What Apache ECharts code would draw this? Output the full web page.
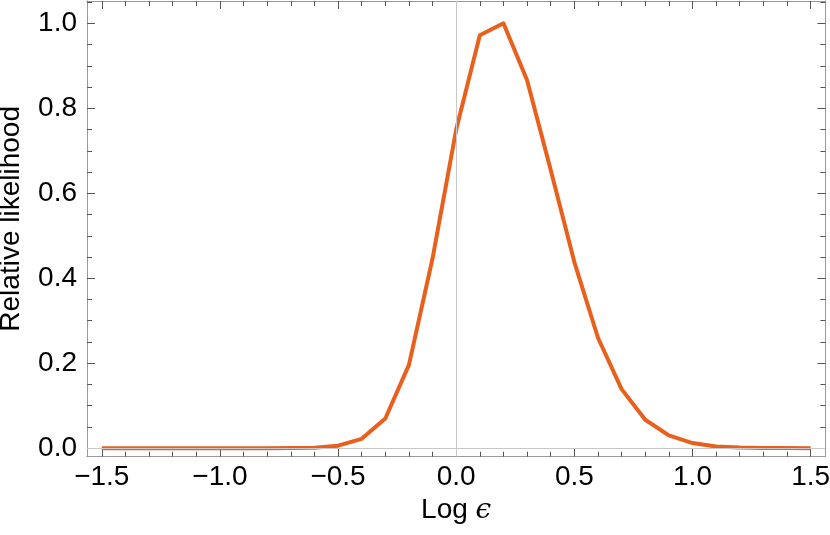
<!DOCTYPE html>
<html>
<head>
<meta charset="utf-8">
<script src="https://cdn.jsdelivr.net/npm/echarts@6/dist/echarts.min.js"></script>
<style>html,body{margin:0;padding:0;background:#fff;}#c{width:830px;height:535px;}</style>
</head>
<body>
<div id="c"></div>
<script>
const logEps = [-1.5,-1.4,-1.3,-1.2,-1.1,-1.0,-0.9,-0.8,-0.7,-0.6,-0.5,-0.4,-0.3,-0.2,-0.1,0.0,0.1,0.2,0.3,0.4,0.5,0.6,0.7,0.8,0.9,1.0,1.1,1.2,1.3,1.4,1.5];
const likelihood = [0,0,0,0,0,0,0,0,0.0003,0.0012,0.006,0.022,0.07,0.196,0.447,0.75,0.972,1.0,0.866,0.655,0.438,0.26,0.139,0.067,0.03,0.012,0.004,0.0015,0.0005,0.0002,0.0001];
const xMajorTicks = [-1.5,-1.0,-0.5,0.0,0.5,1.0,1.5];
const xMinorTicks = [-1.4,-1.3,-1.2,-1.1,-0.9,-0.8,-0.7,-0.6,-0.4,-0.3,-0.2,-0.1,0.1,0.2,0.3,0.4,0.6,0.7,0.8,0.9,1.1,1.2,1.3,1.4];
const yMajorTicks = [0.0,0.2,0.4,0.6,0.8,1.0];
const yMinorTicks = [0.05,0.1,0.15,0.25,0.3,0.35,0.45,0.5,0.55,0.65,0.7,0.75,0.85,0.9,0.95,1.05];

const X_MIN = -1.5625, X_MAX = 1.5625, Y_MIN = -0.02, Y_MAX = 1.0525;
const FRAME = '#9a9a9a', TICK = '#555', FONT = '"Liberation Sans", Arial, Helvetica, sans-serif';
const fmt = v => (v < 0 ? '\u2212' : '') + Math.abs(v).toFixed(1);

function xAx(pos, ticks, len, labels) {
  return {
    type: 'value', position: pos, min: X_MIN, max: X_MAX,
    axisLine: {show: true, onZero: false, lineStyle: {color: FRAME, width: 1}},
    axisTick: {show: true, inside: true, length: len, customValues: ticks, lineStyle: {color: TICK, width: 1}},
    axisLabel: labels ? {show: true, customValues: ticks, formatter: fmt, color: '#000', fontSize: 28, fontFamily: FONT, margin: 7} : {show: false},
    splitLine: {show: false}
  };
}
function yAx(pos, ticks, len, labels) {
  return {
    type: 'value', position: pos, min: Y_MIN, max: Y_MAX,
    axisLine: {show: true, onZero: false, lineStyle: {color: FRAME, width: 1}},
    axisTick: {show: true, inside: true, length: len, customValues: ticks, lineStyle: {color: TICK, width: 1}},
    axisLabel: labels ? {show: true, customValues: ticks, formatter: fmt, color: '#000', fontSize: 28, fontFamily: FONT, margin: 10} : {show: false},
    splitLine: {show: false}
  };
}

const xAxes = [
  xAx('bottom', xMajorTicks, 8, true),
  xAx('bottom', xMinorTicks, 5, false),
  xAx('top', xMajorTicks, 8, false),
  xAx('top', xMinorTicks, 5, false)
];
Object.assign(xAxes[0], {
  name: 'Log {e|\u03f5}', nameLocation: 'middle', nameGap: 36,
  nameTextStyle: {color: '#000', fontSize: 28, fontFamily: FONT,
    rich: {e: {fontStyle: 'italic', fontSize: 28, fontFamily: '"DejaVu Serif", "DejaVu Sans", serif', color: '#000'}}}
});
const yAxes = [
  yAx('left', yMajorTicks, 8, true),
  yAx('left', yMinorTicks, 5, false),
  yAx('right', yMajorTicks, 8, false),
  yAx('right', yMinorTicks, 5, false)
];
Object.assign(yAxes[0], {
  name: 'Relative likelihood', nameLocation: 'middle', nameGap: 62, nameRotate: 90,
  nameTextStyle: {color: '#000', fontSize: 28, fontFamily: FONT, padding: [0,0,0,20]}
});

const chart = echarts.init(document.getElementById('c'), null, {renderer: 'canvas'});
chart.setOption({
  animation: false,
  backgroundColor: '#fff',
  grid: {left: 87, right: 4.6, top: 1, bottom: 78.3, containLabel: false, outerBoundsMode: 'none'},
  xAxis: xAxes,
  yAxis: yAxes,
  series: [
    {
      type: 'line', xAxisIndex: 0, yAxisIndex: 0, data: [], z: 1,
      markLine: {
        silent: true, symbol: 'none', label: {show: false},
        lineStyle: {color: '#c8c8c8', width: 1, type: 'solid'},
        data: [{xAxis: 0}, {yAxis: 0}]
      }
    },
    {
      type: 'line', xAxisIndex: 0, yAxisIndex: 0, z: 3,
      data: logEps.map((x, i) => [x, likelihood[i]]),
      showSymbol: false, symbol: 'none',
      lineStyle: {color: '#E8601C', width: 4, join: 'round'}
    }
  ]
});
</script>
</body>
</html>
